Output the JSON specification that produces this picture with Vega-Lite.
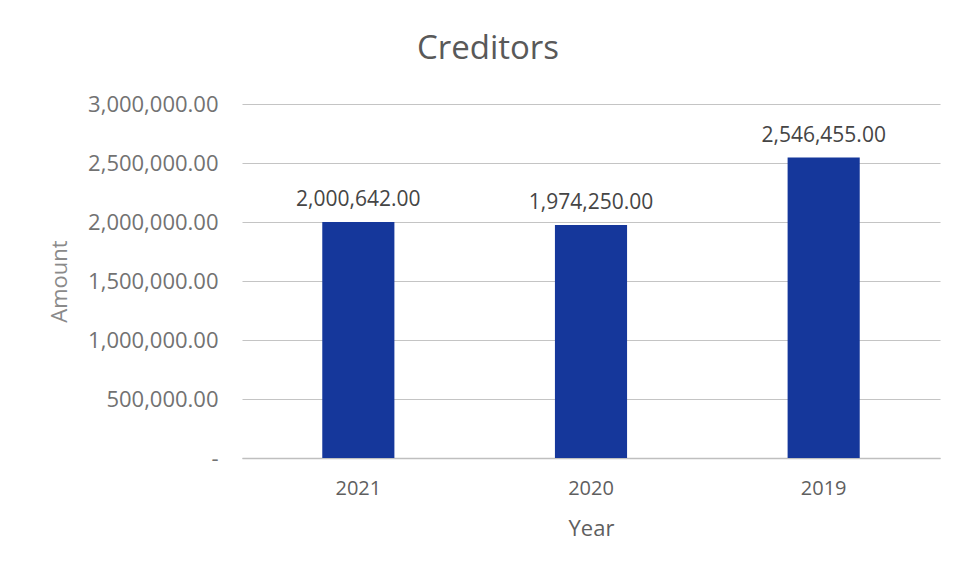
{
  "$schema": "https://vega.github.io/schema/vega-lite/v6.json",
  "autosize": {"type": "none"},
  "width": 698,
  "height": 354,
  "padding": {"left": 242, "top": 104, "right": 18, "bottom": 111},
  "background": "white",
  "title": {
    "text": "Creditors",
    "anchor": "middle",
    "frame": "group",
    "dx": -103,
    "offset": 27,
    "font": "Open Sans",
    "fontSize": 33,
    "fontWeight": "normal",
    "color": "#595959"
  },
  "data": {
    "values": [
      {"Year": "2021", "Amount": 2000642},
      {"Year": "2020", "Amount": 1974250},
      {"Year": "2019", "Amount": 2546455}
    ]
  },
  "config": {
    "view": {"stroke": null},
    "font": "Open Sans",
    "scale": {"bandPaddingInner": 0.69, "bandPaddingOuter": 0.345}
  },
  "encoding": {
    "x": {
      "field": "Year",
      "type": "nominal",
      "sort": null,
      "axis": {
        "title": "Year",
        "labelAngle": 0,
        "labelFont": "Open Sans",
        "labelFontSize": 20,
        "labelColor": "#5f5f5f",
        "labelPadding": 20,
        "ticks": false,
        "domainColor": "#bfbfbf",
        "domainWidth": 1.5,
        "titleFont": "Open Sans",
        "titleFontSize": 22,
        "titleFontWeight": "normal",
        "titleColor": "#5f5f5f",
        "titlePadding": 20
      }
    },
    "y": {
      "field": "Amount",
      "type": "quantitative",
      "scale": {"domain": [0, 3000000]},
      "axis": {
        "title": "Amount",
        "values": [0, 500000, 1000000, 1500000, 2000000, 2500000, 3000000],
        "labelExpr": "datum.value == 0 ? '-\u00a0\u00a0\u00a0\u00a0\u00a0\u00a0\u00a0' : format(datum.value, ',.2f')",
        "labelFont": "Open Sans",
        "labelFontSize": 22,
        "labelColor": "#727272",
        "labelPadding": 24,
        "ticks": false,
        "domain": false,
        "grid": true,
        "gridColor": "#c4c4c4",
        "gridWidth": 1.2,
        "titleFont": "Open Sans",
        "titleFontSize": 22,
        "titleFontWeight": "normal",
        "titleColor": "#8a8a8a",
        "titlePadding": 16
      }
    }
  },
  "layer": [
    {"mark": {"type": "bar", "color": "#15379b"}},
    {
      "mark": {"type": "text", "baseline": "bottom", "dy": -12, "font": "Open Sans", "fontSize": 21, "color": "#454545"},
      "encoding": {"text": {"field": "Amount", "type": "quantitative", "format": ",.2f"}}
    }
  ]
}
